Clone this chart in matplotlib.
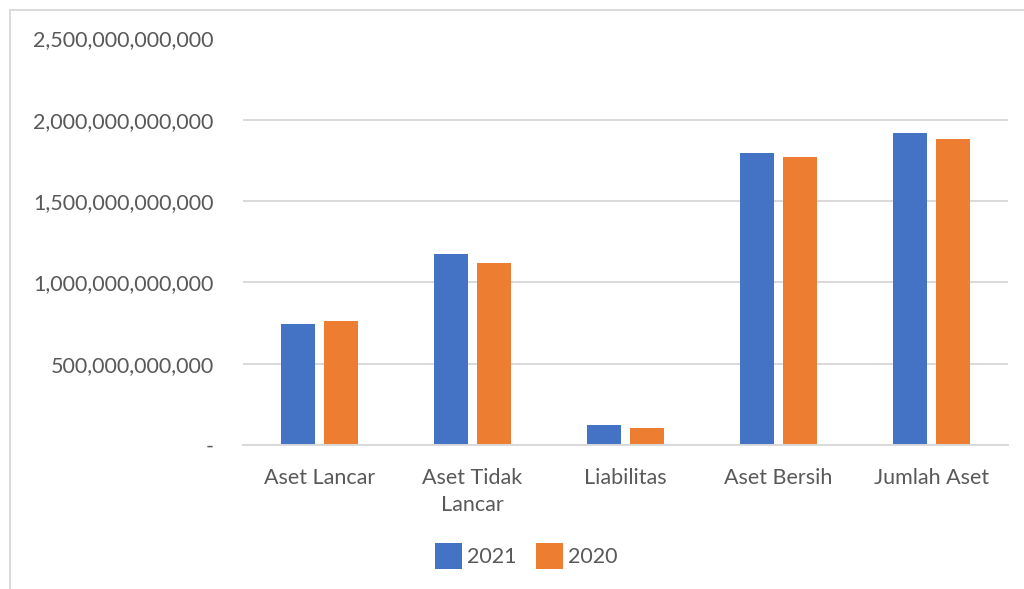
import matplotlib
matplotlib.use("Agg")
import matplotlib.pyplot as plt
from matplotlib.ticker import FuncFormatter, MultipleLocator
from matplotlib.lines import Line2D
import numpy as np

categories = ["Aset Lancar", "Aset Tidak\nLancar", "Liabilitas", "Aset Bersih", "Jumlah Aset"]
series_names = ["2021", "2020"]
values_2021 = [742e9, 1175e9, 121e9, 1794e9, 1917e9]
values_2020 = [761e9, 1117e9, 106e9, 1769e9, 1880e9]
colors = ["#4472C4", "#ED7D31"]

plt.rcParams['font.family'] = ['Lato', 'DejaVu Sans']
text_color = "#595959"
fs = 15.5

fig = plt.figure(figsize=(10.24, 5.89), dpi=100)
ax = fig.add_axes([243/1024, 1-445/589, (1007.7-243)/1024, (445-38.5)/589])

x = np.arange(len(categories))
w = 0.222
off = 0.1405
ax.bar(x - off, values_2021, width=w, color=colors[0], label=series_names[0], zorder=3)
ax.bar(x + off, values_2020, width=w, color=colors[1], label=series_names[1], zorder=3)

ax.set_xlim(-0.5, len(categories) - 0.5)
ax.set_ylim(0, 2.5e12)
ax.yaxis.set_major_locator(MultipleLocator(5e11))
ax.yaxis.set_major_formatter(FuncFormatter(lambda v, p: "-" if v == 0 else f"{v:,.0f}"))
ax.grid(axis='y', color="#d9d9d9", linewidth=1.4, zorder=0)
for s in ["top", "right", "left"]:
    ax.spines[s].set_visible(False)
ax.spines["bottom"].set_color("#d9d9d9")
ax.spines["bottom"].set_linewidth(1.4)
ax.spines["bottom"].set_zorder(4)
ax.set_xticks(x)
ax.set_xticklabels(categories, linespacing=1.45)
ax.tick_params(axis='y', length=0, pad=21, labelsize=fs, labelcolor=text_color)
ax.tick_params(axis='x', length=0, pad=16.5, labelsize=fs, labelcolor=text_color)

leg = fig.legend(loc="center", bbox_to_anchor=(526/1024, 1-556/589), ncol=2, frameon=False,
                 fontsize=fs, labelcolor=text_color, handlelength=1.26, handleheight=1.55,
                 handletextpad=0.23, columnspacing=0.9, borderaxespad=0, borderpad=0)

# chart frame lines
fig.add_artist(Line2D([10/1024, 1.0], [1-9.5/589, 1-9.5/589], color="#d9d9d9", linewidth=1.4, transform=fig.transFigure))
fig.add_artist(Line2D([10/1024, 10/1024], [1-9.5/589, 0], color="#d9d9d9", linewidth=1.4, transform=fig.transFigure))

fig.savefig("out.png", dpi=100)
